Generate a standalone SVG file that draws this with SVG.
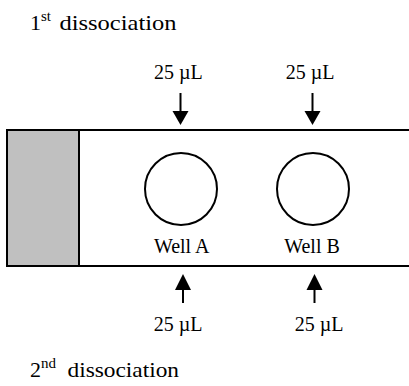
<svg xmlns="http://www.w3.org/2000/svg" width="409" height="386" viewBox="0 0 409 386">
<style>
text{font-family:"Liberation Serif","Times New Roman",serif;font-size:20px;fill:#000}
.big{font-size:22px}
.sup{font-size:15px}
.edge{stroke:#000;stroke-width:2;fill:none}
.well{stroke:#000;stroke-width:2;fill:#fff}
.arr{stroke:#000;stroke-width:2}
.head{fill:#000}
</style>
<rect width="409" height="386" fill="#fff"/>
<g id="plate">
<rect x="7" y="130" width="72" height="136" fill="#c0c0c0"/>
<path class="edge" d="M410,130 H7 V266 H410 M79,130 V266"/>
</g>
<g id="wellA">
<circle class="well" cx="181" cy="189" r="36"/>
<text x="181.7" y="253" text-anchor="middle">Well A</text>
</g>
<g id="wellB">
<circle class="well" cx="313" cy="189" r="36"/>
<text x="312" y="253" text-anchor="middle">Well B</text>
</g>
<g id="labels">
<text class="big" x="30" y="30">1<tspan class="sup" dy="-9">st </tspan><tspan x="59.5" y="30" textLength="117" lengthAdjust="spacingAndGlyphs">dissociation</tspan></text>
<text class="big" x="30" y="377">2<tspan class="sup" dy="-9">nd </tspan><tspan x="67.5" y="377" textLength="111.5" lengthAdjust="spacingAndGlyphs">dissociation</tspan></text>
<text x="178.4" y="79" text-anchor="middle">25 µL</text>
<text x="310" y="79" text-anchor="middle">25 µL</text>
<text x="178" y="330.5" text-anchor="middle">25 µL</text>
<text x="319" y="330.5" text-anchor="middle">25 µL</text>
</g>
<g id="connectors">
<line class="arr" x1="180.5" y1="93" x2="180.5" y2="112"/>
<polygon class="head" points="172.5,111 188.5,111 180.5,125"/>
<line class="arr" x1="312.5" y1="93" x2="312.5" y2="112"/>
<polygon class="head" points="304.5,111 320.5,111 312.5,125"/>
<line class="arr" x1="183" y1="303" x2="183" y2="288"/>
<polygon class="head" points="175,290 191,290 183,274"/>
<line class="arr" x1="314.5" y1="303" x2="314.5" y2="288"/>
<polygon class="head" points="306.5,290 322.5,290 314.5,274"/>
</g>
</svg>
